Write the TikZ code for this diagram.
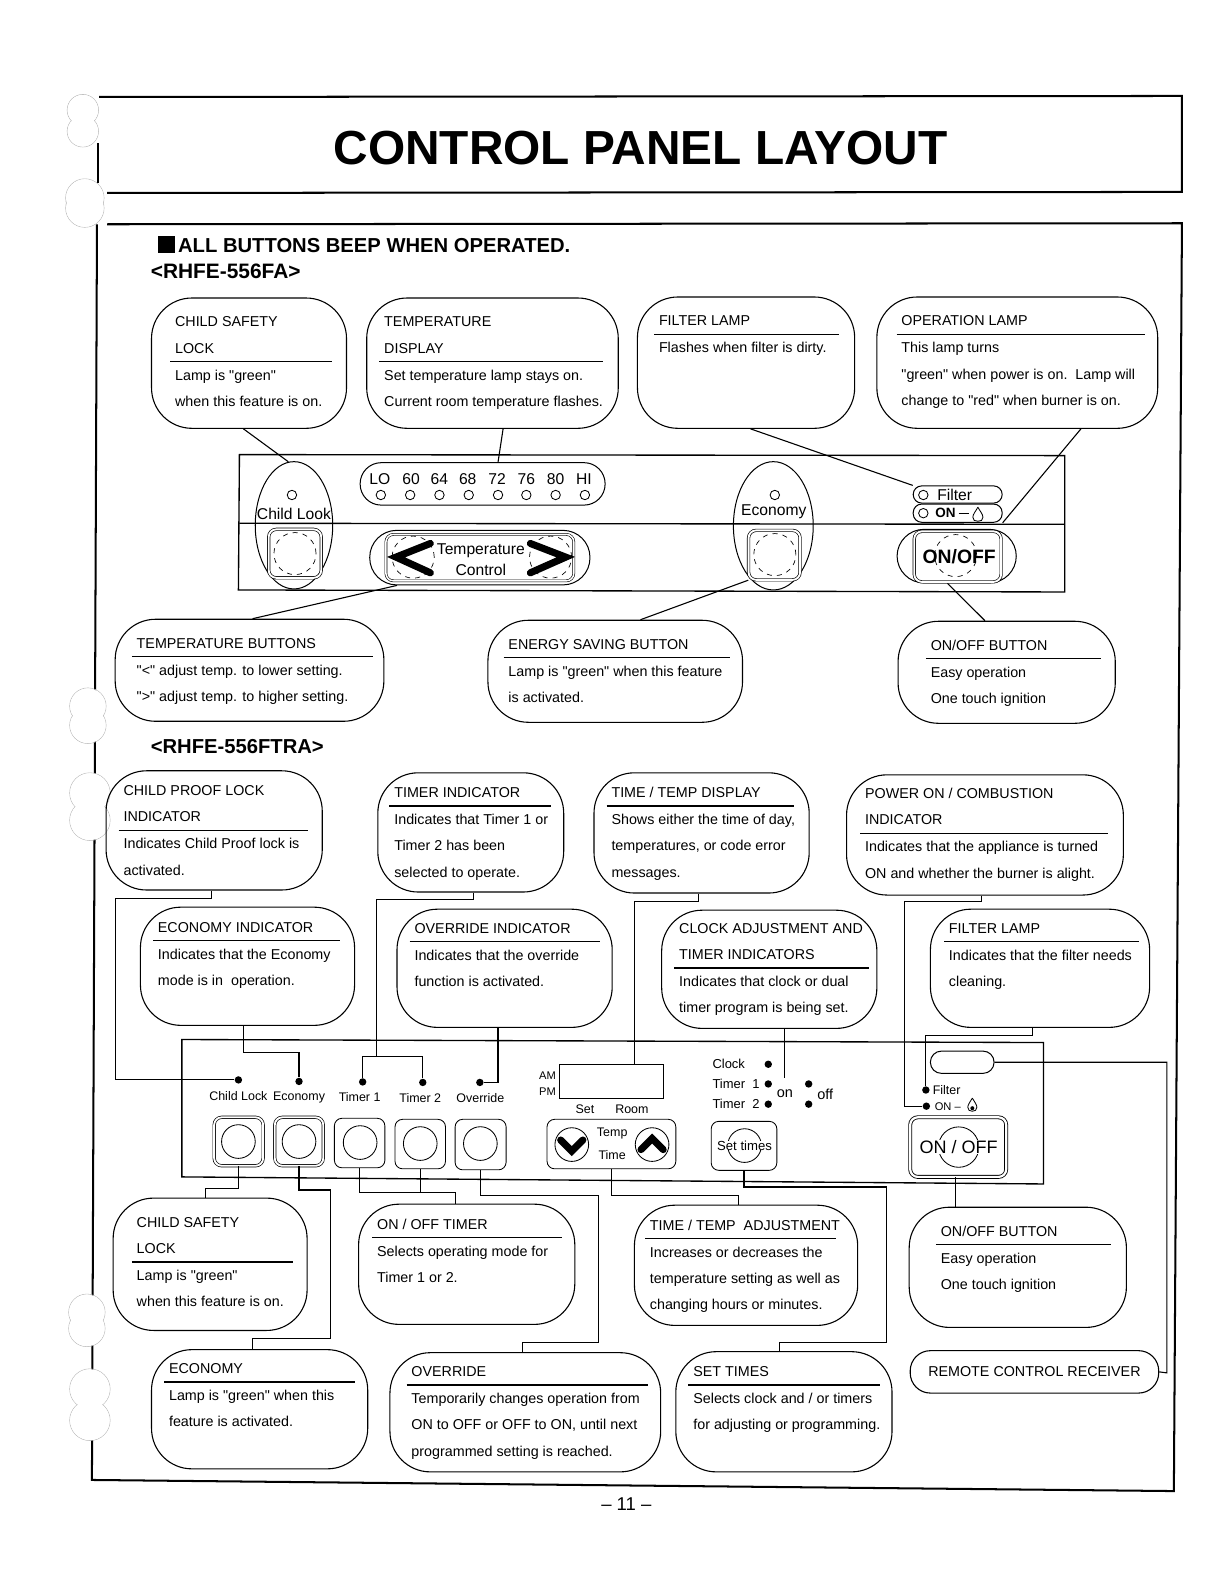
\documentclass[tikz,border=0pt]{standalone}
\usepackage{fontspec}
\defaultfontfeatures[\rmfamily]{}
\setmainfont{Liberation Sans}
\usetikzlibrary{shapes.geometric,positioning,fit}
\tikzset{
  callbox/.style={draw,line width=0.65pt,rounded corners=24pt,inner sep=0pt},
  calltext/.style={inner sep=0pt,align=left,font=\fontsize{8.5}{15.6}\selectfont},
  leader/.style={line width=0.65pt},
  frameline/.style={line width=1.2pt},
  panelline/.style={line width=0.8pt},
  panelbox/.style={draw,line width=0.6pt,inner sep=0pt},
  chevron/.style={line width=4.2pt,line cap=round,line join=miter},
  lamp/.style={circle,draw,line width=0.5pt,inner sep=0pt,minimum size=5.6pt},
  ledot/.style={circle,fill,inner sep=0pt,minimum size=4.4pt},
  dashring/.style={circle,draw,dash pattern=on 3pt off 3pt,line width=0.4pt,inner sep=0pt,minimum size=25pt},
  softring/.style={circle,draw,line width=0.5pt,inner sep=0pt,minimum size=20pt},
  softbtn/.style={draw,line width=0.5pt,rounded corners=4.5pt,inner sep=0pt},
  dblbtn/.style={draw,line width=0.4pt,double,double distance=1.1pt,rounded corners=4.5pt,inner sep=0pt},
  bigtext/.style={inner sep=0pt,font=\fontsize{9.3}{11}\selectfont},
  smalltext/.style={inner sep=0pt,font=\fontsize{7.4}{9}\selectfont},
  heading/.style={inner sep=0pt,anchor=west,font=\fontsize{12}{14}\selectfont\bfseries},
}
% name, corner, corner, text x, rule y, rule end, title, body
\newcommand{\callout}[8]{
  \node[callbox,fit={(#2)(#3)}] (#1) {};
  \node[calltext,anchor=south west] (#1title) at (#4,{#5-4.7}) {#7\rule[-2pt]{0pt}{0pt}};
  \node[calltext,anchor=north west] (#1body) at (#4,{#5+4.7}) {\rule{0pt}{8pt}#8};
  \draw[line width=0.9pt] ({#4-4.5},#5) -- (#6,#5);
}
% hole of the binder: two overlapping rings
\newcommand{\holemark}[4]{
  \draw[gray!55,line width=0.35pt] (#1,#2) circle ({#4*0.6pt}) (#1,#3) circle ({#4*0.6pt});
  \fill[white] (#1,#2) circle ({(#4-0.4)*0.6pt}) (#1,#3) circle ({(#4-0.4)*0.6pt});
}
\begin{document}
\begin{tikzpicture}[x=0.6pt,y=-0.6pt]
\useasboundingbox (0,0) rectangle (1212,1568);

% page frames
\draw[frameline] (97,142) -- (97,181);
\draw[frameline] (98,96) -- (1170,95) -- (1170,190) -- (106,191);
\draw[frameline] (106,222) -- (1170,221) -- (1162,1476) -- (91,1465) -- (96,222);
\holemark{82}{109}{130}{15.5}
\holemark{84}{196}{206}{19}
\holemark{87}{699}{718}{18}
\holemark{89}{785}{812}{20}
\holemark{86}{1299}{1315}{18}
\holemark{89}{1375}{1406}{20}

\node[inner sep=0pt,font=\fontsize{28.4}{32}\selectfont\bfseries] (pagetitle) at (634,147) {CONTROL PANEL LAYOUT};
\node[heading] (beepnote) at (156,242) {\rule{10pt}{10pt}\,ALL BUTTONS BEEP WHEN OPERATED.};
\node[heading,font=\fontsize{12.4}{14}\selectfont\bfseries] (modelfa) at (149,269) {<RHFE-556FA>};
\node[heading] (modelftra) at (149,739) {<RHFE-556FTRA>};
\node[inner sep=0pt,font=\fontsize{11}{13}\selectfont] (pagenumber) at (620,1489) {– 11 –};

% RHFE-556FA callouts
\callout{safetylock}{150,295}{343,424}{173}{358}{329}{CHILD SAFETY\\LOCK}{Lamp is "green"\\when this feature is on.}
\callout{tempdisp}{363,295}{612,424}{380}{358}{597}{TEMPERATURE\\DISPLAY}{Set temperature lamp stays on.\\Current room temperature flashes.}
\callout{filterlamp}{631,294}{846,424}{652}{331}{831}{FILTER LAMP}{Flashes when filter is dirty.}
\callout{oplamp}{868,294}{1146,424}{892}{331}{1133}{OPERATION LAMP}{This lamp turns\\"green" when power is on.\ \ Lamp will\\change to "red" when burner is on.}
\callout{tempbtns}{114,613}{380,714}{135}{650}{369}{TEMPERATURE BUTTONS}{"<" adjust temp. to lower setting.\\">" adjust temp. to higher setting.}
\callout{energybtn}{483,614}{735,715}{503}{651}{723}{ENERGY SAVING BUTTON}{Lamp is "green" when this feature\\is activated.}
\callout{onoffbtn}{889,615}{1104,716}{921}{652}{1090}{ON/OFF BUTTON}{Easy operation\\One touch ignition}

% RHFE-556FA panel
\draw[panelline] (237,450) -- (1054,451) -- (1054,586) -- (236,584) -- cycle;
\draw[panelline] (237,518) -- (1054,519);
\node[ellipse,panelbox,minimum width=46pt,minimum height=75.6pt] (ellchild) at (291,520) {};
\node[ellipse,panelbox,minimum width=47.4pt,minimum height=76.2pt] (ellecon) at (765.5,520.5) {};
\node[lamp] (lampchild) at (289,490) {};
\node[bigtext] (labchild) at (291,509) {Child Look};
\node[lamp] (lampecon) at (767,490) {};
\node[bigtext] (labecon) at (766,507) {Economy};
\node[dblbtn,fit={(266,524)(318,572)}] (btnchildu) {};
\node[dashring] at (292,548) {};
\node[dblbtn,fit={(741,525)(792,574)}] (btneconu) {};
\node[dashring] at (767,549) {};

\node[panelbox,rounded corners=12.5pt,fit={(356.5,458)(599,500)}] (scalepill) {};
\foreach \nm/\xa/\xb in {LO/376/377,60/407/406,64/435/435,68/463/464,72/492/493,76/521/521,80/550/550,HI/578/579}{
  \node[bigtext] (scale\nm) at (\xa,474) {\nm};
  \node[lamp] (lamp\nm) at (\xb,490) {};
}
\node[panelbox,rounded corners=16pt,fit={(366,525)(584,579)}] (ctrlpill) {};
\node[panelbox,double,line width=0.35pt,double distance=0.9pt,rounded corners=4.5pt,fit={(382,529)(568,575)}] (ctrlrect) {};
\node[dashring] at (409,551.5) {};
\node[dashring] at (545,551.5) {};
\draw[chevron] (426,538) -- (392,551.5) -- (426,567);
\draw[chevron] (525,538) -- (560,551.5) -- (525,567);
\node[bigtext] (labtemperature) at (476,545) {Temperature};
\node[bigtext] (labcontrol) at (476,564) {Control};

\node[panelbox,rounded corners=5pt,fit={(904,481)(992,498)}] (filterpill) {};
\node[panelbox,rounded corners=5pt,fit={(904,499)(992,517)}] (onpill) {};
\node[lamp] (lampfilter) at (914,490) {};
\node[lamp] (lampon) at (914,508) {};
\node[bigtext] (labfilter) at (945,489.5) {Filter};
\node[inner sep=0pt,font=\fontsize{8}{10}\selectfont\bfseries] (labon) at (936,508) {ON};
\draw[line width=0.5pt] (labon.east) ++(1.5pt,0) -- ++(6pt,0);
\draw[line width=0.5pt] (968,502) .. controls (966,506) and (963,509) .. (963,512) .. controls (963,515) and (965,516) .. (968,516) .. controls (971,516) and (973,515) .. (973,512) .. controls (973,509) and (970,506) .. (968,502);
\node[panelbox,rounded corners=16pt,fit={(888,524)(1006,577)}] (onoffpill) {};
\node[dblbtn,fit={(905,526)(991,576)}] (onoffrect) {};
\node[dashring] at (946,550) {};
\node[inner sep=0pt,font=\fontsize{11.5}{14}\selectfont\bfseries] (labonoff) at (949.5,551) {ON/OFF};

\draw[leader] (safetylock.south -| 241,0) -- (ellchild.95);
\draw[leader] (tempdisp.south -| 498,0) -- (scalepill.north -| 493,0);
\draw[leader] (filterlamp.south -| 743,0) -- (filterpill.north west);
\draw[leader] (oplamp.south -| 1070,0) -- (onpill.south east);
\draw[leader] (tempbtns.north -| 250,0) -- (ctrlpill.south -| 393,0);
\draw[leader] (energybtn.north -| 634,0) -- (btneconu.south west);
\draw[leader] (onoffbtn.north -| 975,0) -- (onoffpill.south -| 938,0);

% RHFE-556FTRA callouts, upper rows
\callout{proofind}{105,763}{319,881}{122}{822}{305}{CHILD PROOF LOCK\\INDICATOR}{Indicates Child Proof lock is\\activated.}
\callout{timerind}{374,765}{558,883}{390}{798}{545}{TIMER INDICATOR}{Indicates that Timer 1 or\\Timer 2 has been\\selected to operate.}
\callout{timeind}{588,765}{801,884}{605}{798}{786}{TIME / TEMP DISPLAY}{Shows either the time of day,\\temperatures, or code error\\messages.}
\callout{powerind}{838,767}{1112,886}{856}{825}{1097}{POWER ON / COMBUSTION\\INDICATOR}{Indicates that the appliance is turned\\ON and whether the burner is alight.}
\callout{ecoind}{139,898}{351,1015}{156}{931}{337}{ECONOMY INDICATOR}{Indicates that the Economy\\mode is in\ \ operation.}
\callout{overind}{393,900}{606,1017}{410}{932}{594}{OVERRIDE INDICATOR}{Indicates that the override\\function is activated.}
\callout{clockind}{655,901}{868,1018}{672}{958}{860}{CLOCK ADJUSTMENT AND\\TIMER INDICATORS}{Indicates that clock or dual\\timer program is being set.}
\callout{filterind}{921,900}{1138,1017}{939}{932}{1127}{FILTER LAMP}{Indicates that the filter needs\\cleaning.}

% RHFE-556FTRA panel
\draw[panelline] (180,1029) -- (1033,1032) -- (1033,1172) -- (180,1165) -- cycle;
\foreach \nm/\tx/\ty/\dx/\dy/\lab in {child/236/1085/236/1069/Child Lock,econ/296/1086/296/1070.5/Economy,timerone/356/1086/359/1071/Timer 1,timertwo/416/1087/418.5/1071.5/Timer 2,over/475.5/1087/475/1071.5/Override}{
  \node[smalltext] (lab\nm) at (\tx,\ty) {\lab};
  \node[ledot] (dot\nm) at (\dx,\dy) {};
}
\node[dblbtn,fit={(212,1106)(260.5,1154)}] (btnchild) {};
\node[softring] at (236,1130) {};
\node[dblbtn,fit={(272,1106)(320,1154)}] (btnecon) {};
\node[softring] at (296,1130) {};
\node[softbtn,fit={(331,1107)(381,1156)}] (btntimerone) {};
\node[softring] at (356.5,1131) {};
\node[softbtn,fit={(391,1108)(441,1157)}] (btntimertwo) {};
\node[softring] at (416,1132) {};
\node[softbtn,fit={(450.5,1108)(501,1158)}] (btnover) {};
\node[softring] at (475.5,1132) {};

\node[panelbox,fit={(553.5,1053.5)(656.5,1087)}] (display) {};
\node[inner sep=0pt,font=\fontsize{6.6}{8}\selectfont] (labam) at (542,1064.5) {AM};
\node[inner sep=0pt,font=\fontsize{6.6}{8}\selectfont] (labpm) at (542,1081) {PM};
\node[smalltext] (labset) at (579,1098) {Set};
\node[smalltext] (labroom) at (625.5,1098) {Room};
\node[softbtn,fit={(541.5,1108)(669,1157)}] (btntemp) {};
\node[softring] at (566,1133) {};
\node[softring] at (645.5,1133) {};
\draw[chevron] (555,1128.5) -- (566,1139.5) -- (577,1128.5);
\draw[chevron] (634.5,1138) -- (645.5,1127) -- (656.5,1138);
\node[smalltext] (labtemp) at (606,1122) {Temp};
\node[smalltext] (labtime) at (606,1143.5) {Time};

\node[smalltext,anchor=west,font=\fontsize{7.7}{9}\selectfont] (labclock) at (705,1053.5) {Clock};
\node[smalltext,anchor=west,font=\fontsize{7.7}{9}\selectfont] (labtimerone) at (705,1073) {Timer\ \ 1};
\node[smalltext,anchor=west,font=\fontsize{7.7}{9}\selectfont] (labtimertwo) at (705,1092.7) {Timer\ \ 2};
\foreach \nm/\dx/\dy in {clockleft/760.5/1053.5,oneleft/760.5/1073,twoleft/760.5/1093,oneright/800.5/1073,tworight/800.5/1093}{
  \node[ledot] (dot\nm) at (\dx,\dy) {};
}
\node[inner sep=0pt,font=\fontsize{8.6}{10}\selectfont] (labontimer) at (777,1083) {on};
\node[inner sep=0pt,font=\fontsize{8.6}{10}\selectfont] (laboff) at (817,1083) {off};
\node[softbtn,fit={(704,1110)(769,1158.5)}] (btnset) {};
\node[softring] at (737,1134) {};
\node[smalltext,fill=white,font=\fontsize{7.8}{9}\selectfont] (labsettimes) at (737,1134) {Set times};

\node[panelbox,rounded corners=6.5pt,fit={(921,1040.5)(984,1062.5)}] (receiver) {};
\node[ledot] (dotfilter) at (916.5,1079) {};
\node[ledot] (dotonlamp) at (917,1095) {};
\node[smalltext,anchor=west] (labfilterb) at (923,1079) {Filter};
\node[inner sep=0pt,anchor=west,font=\fontsize{6.6}{8}\selectfont] (labonb) at (925,1095) {ON –};
\draw[line width=0.5pt] (962.5,1087) .. controls (960,1091) and (958,1094) .. (958,1096) .. controls (958,1099) and (960,1100) .. (962.5,1100) .. controls (965,1100) and (967,1099) .. (967,1096) .. controls (967,1094) and (965,1091) .. (962.5,1087);
\fill (962.5,1097) circle (1.2pt);
\node[dblbtn,line width=0.5pt,double distance=1.3pt,fit={(901,1106)(996,1165)}] (btnonoff) {};
\node[softring,minimum size=24pt] at (949,1135.5) {};
\node[inner sep=0pt,fill=white,font=\fontsize{10.7}{14}\selectfont] (labonoffb) at (949,1135.5) {ON / OFF};

% RHFE-556FTRA callouts, lower rows
\callout{safetybox}{112,1186}{304,1317}{135}{1249}{290}{CHILD SAFETY\\LOCK}{Lamp is "green"\\when this feature is on.}
\callout{onoffbox}{355,1192}{569,1311}{373}{1225}{556}{ON / OFF TIMER}{Selects operating mode for\\Timer 1 or 2.}
\callout{adjbox}{628,1193}{849,1312}{643}{1226}{828}{TIME / TEMP\ \ ADJUSTMENT}{Increases or decreases the\\temperature setting as well as\\changing hours or minutes.}
\callout{buttonbox}{900,1195}{1115,1314}{931}{1232}{1100}{ON/OFF BUTTON}{Easy operation\\One touch ignition}
\callout{ecobox}{150,1336}{364,1454}{167}{1368}{351}{ECONOMY}{Lamp is "green" when this\\feature is activated.}
\callout{overbox}{386,1339}{654,1457}{407}{1371}{641}{OVERRIDE}{Temporarily changes operation from\\ON to OFF or OFF to ON, until next\\programmed setting is reached.}
\callout{setbox}{669,1338}{883,1457}{686}{1371}{871}{SET TIMES}{Selects clock and / or timers\\for adjusting or programming.}
\node[callbox,rounded corners=12pt,fit={(901,1337)(1147,1379)}] (remotebox) {};
\node[calltext] (remotetext) at (remotebox) {REMOTE CONTROL RECEIVER};

% leaders into the panel
\draw[leader] (proofind.south -| 209,0) |- (114,889) |- (dotchild);
\draw[leader] (ecoind.south -| 241,0) |- (296,1041.5) -- (dotecon);
\coordinate (timerfork) at (373,1046);
\draw[leader] (timerind.south -| 469,0) |- (373,890) -- (timerfork);
\draw[leader] (dottimerone) |- (timerfork) -| (dottimertwo);
\draw[leader] (overind.south -| 493,0) |- (dotover);
\draw[leader] (timeind.south -| 691,0) |- (628,892) -- (display.north -| 628,0);
\coordinate (clockend) at (777,1067.5);
\draw[leader] (clockind.south -| 777,0) -- (clockend);
\draw[leader] (powerind.south -| 972,0) |- (895,892) |- (dotonlamp);
\draw[leader] (filterind.south -| 1022,0) |- (916.5,1025) -- (dotfilter);
\draw[leader] (receiver.east) -| (1155,1359) -- (remotebox.east);
% leaders out of the panel
\draw[leader] (btnchild.south) |- (203,1176.5) -- (safetybox.north -| 203,0);
\draw[leader] (btnecon.south) |- (327.5,1178) |- (250,1325) -- (ecobox.north -| 250,0);
\draw[leader] (btntimerone.south) |- (450.5,1180) -- (onoffbox.north -| 450.5,0);
\draw[leader] (btntimertwo.south) -- (btntimertwo.south |- 0,1180);
\draw[leader] (btnover.south) |- (592,1183) |- (517,1329) -- (overbox.north -| 517,0);
\draw[leader] (btntemp.south) |- (730.6,1183) -- (adjbox.north -| 730.6,0);
\draw[leader] (btnset.south) |- (877.5,1175) |- (771.5,1329) -- (setbox.north -| 771.5,0);
\draw[leader] (btnonoff.south -| 946,0) -- (buttonbox.north -| 946,0);
\end{tikzpicture}
\end{document}
